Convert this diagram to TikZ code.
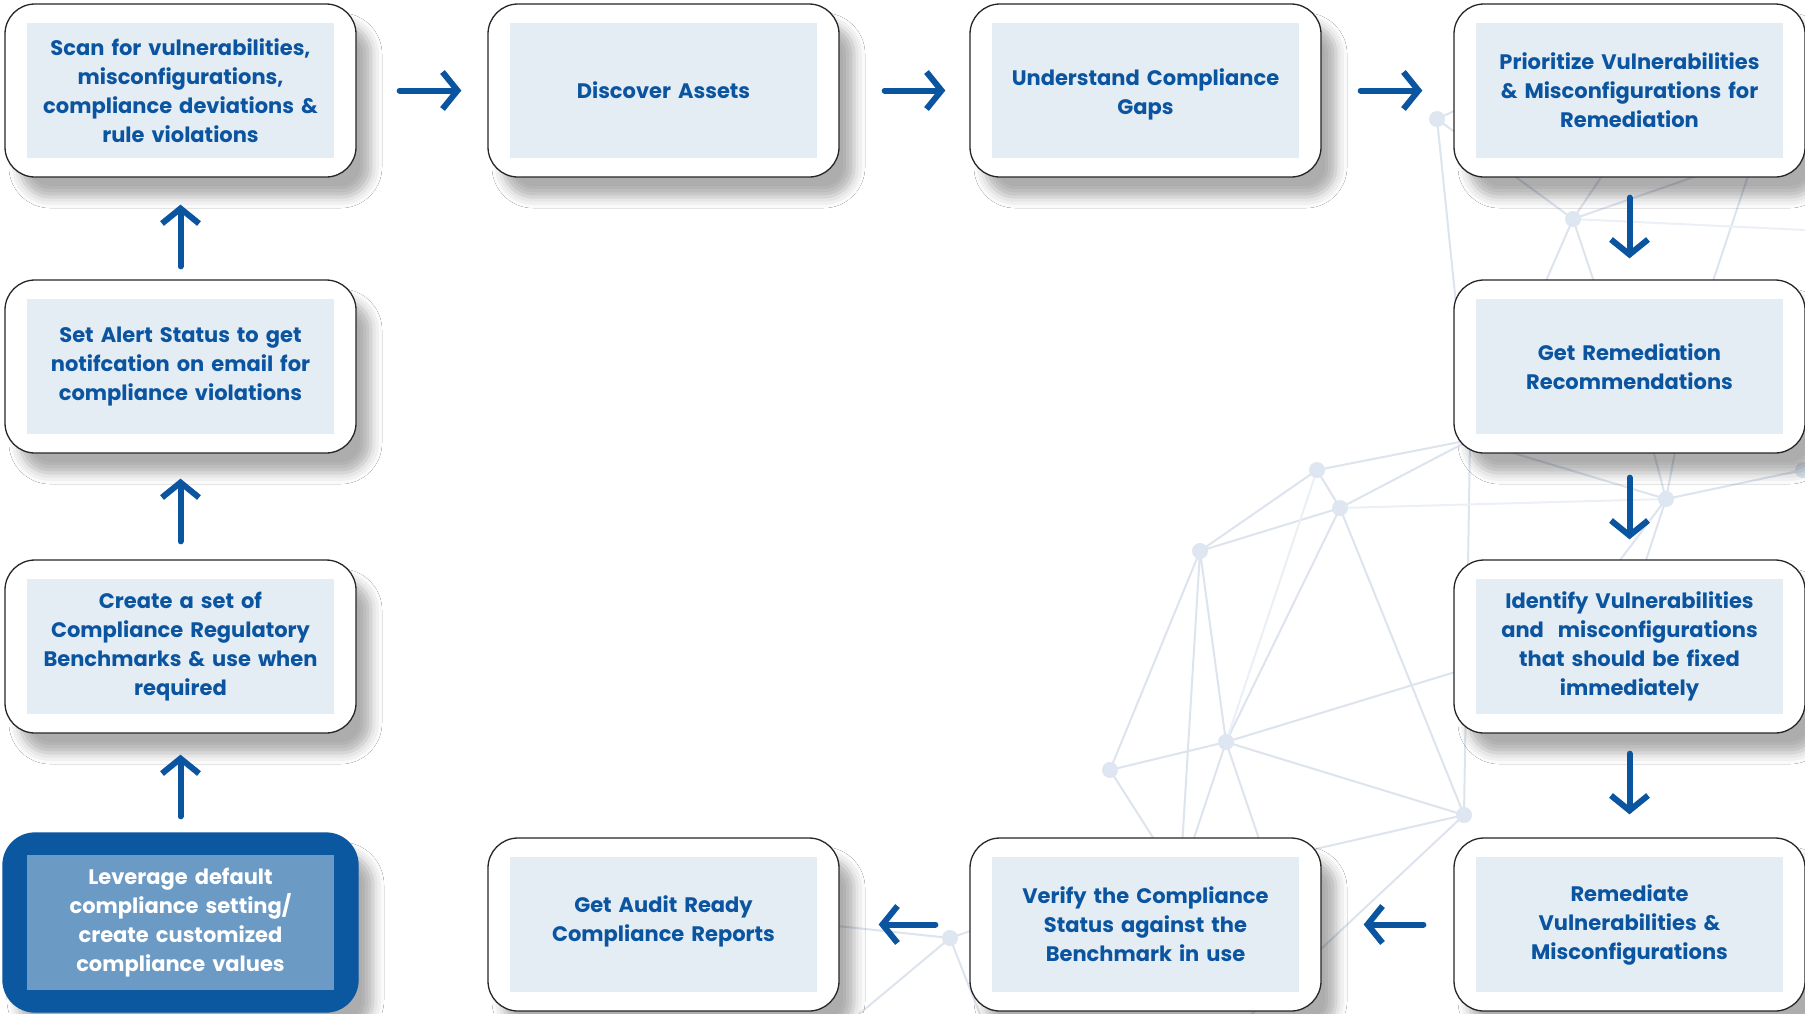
\documentclass[tikz,border=0pt]{standalone}
\usepackage{fontspec}
\setmainfont{Poppins}
\usetikzlibrary{arrows.meta,shadows.blur}
\definecolor{tblue}{HTML}{0B55A0}
\definecolor{ifill}{HTML}{E4ECF4}
\definecolor{dfill}{HTML}{0B57A0}
\definecolor{dinner}{HTML}{6B9AC4}
\definecolor{netc}{HTML}{DDE4EE}
\definecolor{netl}{HTML}{EAF0F6}
\definecolor{netd}{HTML}{DDE6F1}
\begin{document}
\begin{tikzpicture}[x=1pt,y=-1pt,
  box/.style={draw=black!85, line width=1.3pt, fill=white, rounded corners=30pt,
    minimum width=351pt, minimum height=173pt, inner sep=0pt,
    blur shadow={shadow xshift=15pt, shadow yshift=-20pt, shadow blur radius=11pt, shadow opacity=32}},
  dbox/.style={box, draw=dfill, fill=dfill, minimum width=355pt, minimum height=179pt, rounded corners=32pt},
  inbox/.style={fill=ifill, minimum width=307pt, minimum height=135pt, text width=305pt,
    align=center, inner sep=0pt, font=\fontsize{21}{29}\selectfont\bfseries, text=tblue},
  dinbox/.style={inbox, fill=dinner, text=white},
  arr/.style={draw=tblue, line width=6pt, line cap=round,
    -{Straight Barb[length=15pt,width=37pt]}},
  net/.style={draw=netc, line width=2pt},
  netlight/.style={draw=netl, line width=2pt},
  dot/.style={circle, fill=netd, minimum size=16pt, inner sep=0pt}]
\useasboundingbox (0,0) rectangle (1805,1013);
\fill[white] (0,0) rectangle (1805,1013);

% ---- background network ----
\coordinate (A) at (1437,119);
\coordinate (B) at (1573,219);
\coordinate (C) at (1317,470);
\coordinate (D) at (1340,508);
\coordinate (E) at (1200,551);
\coordinate (F) at (1666,499);
\coordinate (G) at (1110,770);
\coordinate (H) at (1226,742);
\coordinate (I) at (1464,815);
\coordinate (J) at (950,938);
\coordinate (R) at (1803,470);
\coordinate (P1) at (1470,440);
\coordinate (T1) at (1520,80);
\coordinate (T2) at (1680,60);
\coordinate (T3) at (1800,140);
\coordinate (T4) at (1760,140);
\coordinate (P5) at (1520,340);
\coordinate (P6) at (1610,330);
\coordinate (P7) at (1700,320);
\coordinate (P8) at (1640,400);
\coordinate (P9) at (1685,400);
\coordinate (P11) at (1560,640);
\coordinate (P12) at (1620,640);
\coordinate (P13) at (1180,880);
\coordinate (P15) at (1290,930);
\coordinate (P16) at (1240,1025);
\coordinate (J1) at (840,1030);
\coordinate (J2) at (990,1040);
\coordinate (J3) at (1060,900);
\coordinate (J4) at (800,922);
\draw[net] (A)--(B) (A)--(P1) (A)--(T1) (B)--(T2) (B)--(T3) (B)--(P5) (B)--(P6) (T4)--(P7)
  (C)--(D) (C)--(E) (E)--(D) (C)--(P1) (D)--(P1) (I)--(P1)
  (D)--(H) (D)--(I) (E)--(G) (E)--(H) (G)--(H) (H)--(I)
  (E)--(P13) (G)--(P13) (H)--(P13) (H)--(P15) (H)--(P11) (I)--(P13) (I)--(P16)
  (F)--(P8) (F)--(P9) (F)--(P1) (F)--(R) (F)--(P11) (F)--(P12)
  (J)--(J1) (J)--(J2) (J)--(J3) (J)--(J4);
\draw[netlight] (D)--(F) (C)--(H) (B)--(1805,230);
\foreach \p in {A,B,C,D,E,F,G,H,I,J,R}
  \node[dot] at (\p) {};

% ---- steps ----
\node[box] (b1) at (180.5,90.5) {};
\node[inbox] (t1) at (b1) {Scan for vulnerabilities,\\misconfigurations,\\compliance deviations \&\\rule violations};
\node[box] (b2) at (663.5,90.5) {};
\node[inbox] (t2) at (b2) {Discover Assets};
\node[box] (b3) at (1145.5,90.5) {};
\node[inbox] (t3) at (b3) {Understand Compliance\\Gaps\par\vspace*{-8pt}};
\node[box] (b4) at (1629.5,90.5) {};
\node[inbox] (t4) at (b4) {Prioritize Vulnerabilities\\\& Misconfigurations for\\Remediation};
\node[box] (b5) at (1629.5,366.5) {};
\node[inbox] (t5) at (b5) {Get Remediation\\Recommendations};
\node[box] (b6) at (1629.5,646.5) {};
\node[inbox] (t6) at (b6) {Identify Vulnerabilities\\and\ \ misconfigurations\\that should be fixed\\immediately};
\node[box] (b7) at (1629.5,924.5) {};
\node[inbox] (t7) at (b7) {Remediate\\Vulnerabilities \&\\Misconfigurations};
\node[box] (b8) at (1145.5,924.5) {};
\node[inbox] (t8) at (b8) {Verify the Compliance\\Status against the\\Benchmark in use};
\node[box] (b9) at (663.5,924.5) {};
\node[inbox] (t9) at (b9) {Get Audit Ready\\Compliance Reports\par\vspace*{6pt}};
\node[dbox] (b10) at (180.5,922.5) {};
\node[dinbox] (t10) at (b10) {Leverage default\\compliance setting/\\create customized\\compliance values};
\node[box] (b11) at (180.5,646.5) {};
\node[inbox] (t11) at (b11) {Create a set of\\Compliance Regulatory\\Benchmarks \& use when\\required};
\node[box] (b12) at (180.5,366.5) {};
\node[inbox] (t12) at (b12) {Set Alert Status to get\\notifcation on email for\\compliance violations};

% ---- arrows ----
\draw[arr] ([xshift=43pt]b1.east) -- ([xshift=-26pt]b2.west);
\draw[arr] ([xshift=45pt]b2.east) -- ([xshift=-24pt]b3.west);
\draw[arr] ([xshift=39pt]b3.east) -- ([xshift=-31pt]b4.west);
\draw[arr] ([yshift=-20pt]b4.south) -- ([yshift=21pt]b5.north);
\draw[arr] ([yshift=-24pt]b5.south) -- ([yshift=20pt]b6.north);
\draw[arr] ([yshift=-20pt]b6.south) -- ([yshift=23pt]b7.north);
\draw[arr] ([xshift=-30pt]b7.west) -- ([xshift=42pt]b8.east);
\draw[arr] ([xshift=-34pt]b8.west) -- ([xshift=39pt]b9.east);
\draw[arr] ([yshift=16pt]b10.north) -- ([yshift=-21pt]b11.south);
\draw[arr] ([yshift=18pt]b11.north) -- ([yshift=-25pt]b12.south);
\draw[arr] ([yshift=13pt]b12.north) -- ([yshift=-27pt]b1.south);
\end{tikzpicture}
\end{document}
